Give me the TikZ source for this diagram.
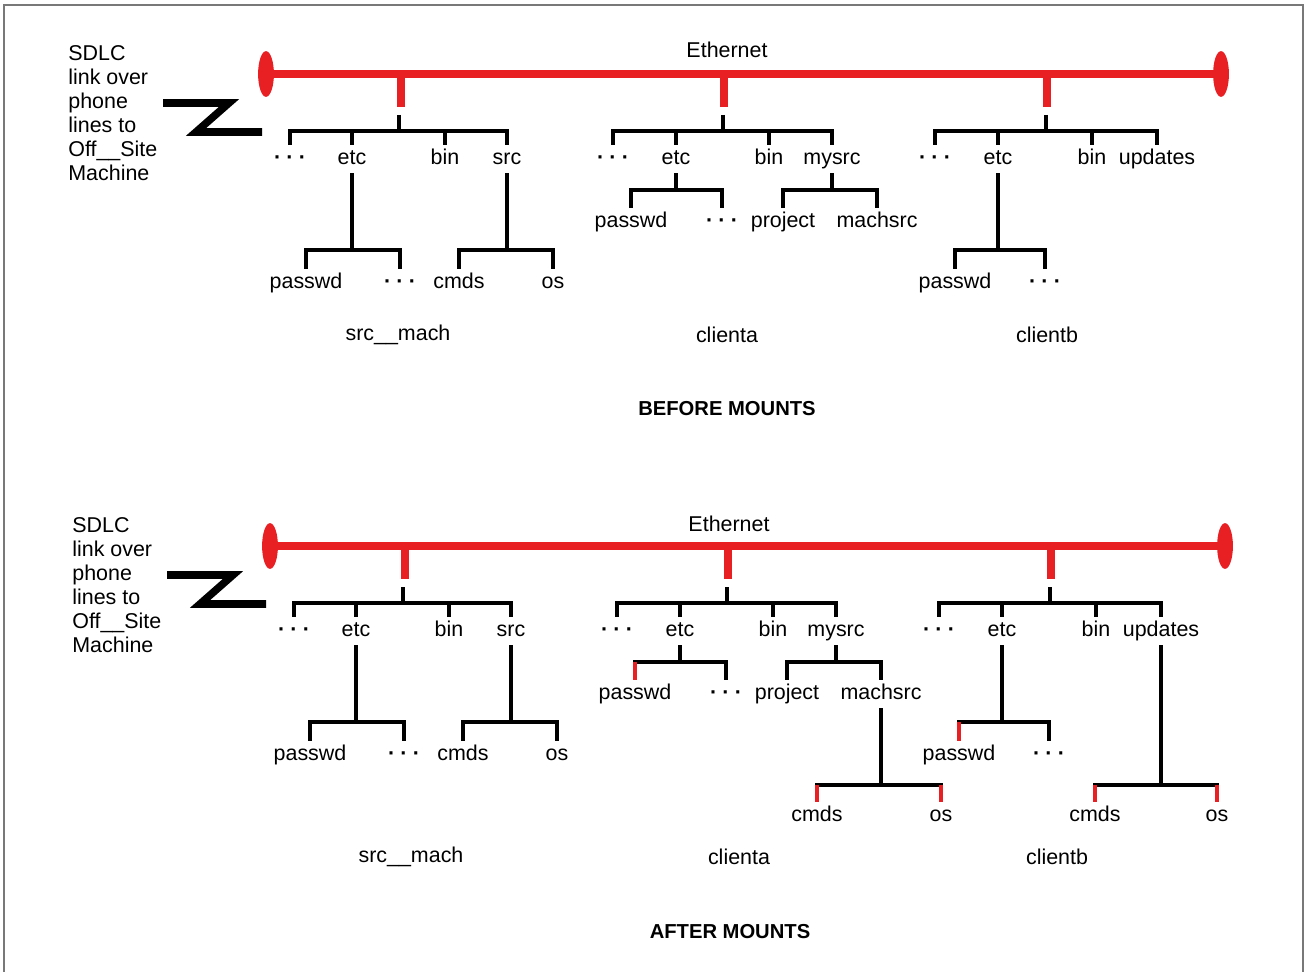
\documentclass[tikz,border=0pt]{standalone}
\usepackage{fontspec}
\setmainfont{Liberation Sans}
\usetikzlibrary{shapes.geometric}

\definecolor{netred}{RGB}{232,32,36}
\definecolor{framegray}{RGB}{120,120,120}
\newcommand{\moredots}{\textbf{·\hspace{3pt}·\hspace{3pt}·}}

\tikzset{
  dir/.style={font=\fontsize{12.2}{14}\selectfont, text height=8.5pt, text depth=2.5pt, inner xsep=1pt, inner ysep=2.5pt},
  host/.style={font=\fontsize{12.2}{14}\selectfont, inner sep=1pt},
  banner/.style={font=\fontsize{11.5}{14}\selectfont\bfseries},
  sdlc/.style={font=\fontsize{12.2}{13.7}\selectfont, align=left, anchor=north west, inner sep=0pt},
  term/.style={ellipse, fill=netred, minimum width=9pt, minimum height=26pt, inner sep=0pt},
  net/.style={netred, line width=4.2pt},
  drop/.style={netred, line width=4.5pt},
  tree/.style={line width=2pt},
  mount/.style={netred, line width=2pt},
  zlink/.style={line width=4.3pt, line join=miter},
}

\begin{document}
\begin{tikzpicture}[x=0.02cm, y=-0.02cm]
\useasboundingbox (0,0) rectangle (1307,972);
\draw[framegray, line width=1.2pt] (4,972) -- (4,5) -- (1303,5) -- (1303,972);

% before mounts
\node[sdlc] (link1) at (68,45) {SDLC\\link over\\phone\\lines to\\Off\_\_Site\\Machine};
\draw[zlink] (163,103) -- (229,103) -- (196,132) -- (262,132);

\node[term] (endL1) at (266,74) {};
\node[term] (endR1) at (1221,74) {};
\draw[net] (endL1) -- (endR1);
\node[host] (eth1) at (727,50) {Ethernet};

\coordinate (tapA1) at (401,107);
\coordinate (tapB1) at (724,107);
\coordinate (tapC1) at (1047,107);
\draw[drop] (tapA1 |- endL1) -- (tapA1);
\draw[drop] (tapB1 |- endL1) -- (tapB1);
\draw[drop] (tapC1 |- endL1) -- (tapC1);

% src_mach
\coordinate (hubA1) at (399,115);
\coordinate (jA1) at (399,131);
\node[dir] (smDots1) at (290,159) {\moredots};
\node[dir] (smEtc1) at (352,159) {etc};
\node[dir] (smBin1) at (445,159) {bin};
\node[dir] (smSrc1) at (507,159) {src};
\draw[tree] (hubA1) -- (jA1) (jA1) -| (smDots1) (jA1) -| (smEtc1) (jA1) -| (smBin1) (jA1) -| (smSrc1);

\coordinate (smEtcJ1) at (352,250);
\node[dir] (smPasswd1) at (306,283) {passwd};
\node[dir] (smMore1) at (400,283) {\moredots};
\draw[tree] (smEtc1) -- (smEtcJ1) -| (smPasswd1) (smEtcJ1) -| (smMore1);

\coordinate (smSrcJ1) at (507,250);
\node[dir] (smCmds1) at (459,283) {cmds};
\node[dir] (smOs1) at (553,283) {os};
\draw[tree] (smSrc1) -- (smSrcJ1) -| (smCmds1) (smSrcJ1) -| (smOs1);

\node[host] (smName1) at (398,335) {src\_\_mach};

% clienta
\coordinate (hubB1) at (723,115);
\coordinate (jB1) at (723,131);
\node[dir] (caDots1) at (613,159) {\moredots};
\node[dir] (caEtc1) at (676,159) {etc};
\node[dir] (caBin1) at (769,159) {bin};
\node[dir] (caMysrc1) at (832,159) {mysrc};
\draw[tree] (hubB1) -- (jB1) (jB1) -| (caDots1) (jB1) -| (caEtc1) (jB1) -| (caBin1) (jB1) -| (caMysrc1);

\coordinate (caEtcJ1) at (676,190);
\node[dir] (caPasswd1) at (631,222) {passwd};
\node[dir] (caMore1) at (722,222) {\moredots};
\draw[tree] (caEtc1) -- (caEtcJ1) -| (caPasswd1) (caEtcJ1) -| (caMore1);

\coordinate (caMysrcJ1) at (832,190);
\node[dir] (caProject1) at (783,222) {project};
\node[dir] (caMachsrc1) at (877,222) {machsrc};
\draw[tree] (caMysrc1) -- (caMysrcJ1) -| (caProject1) (caMysrcJ1) -| (caMachsrc1);

\node[host] (caName1) at (727,335) {clienta};

% clientb
\coordinate (hubC1) at (1046,115);
\coordinate (jC1) at (1046,131);
\node[dir] (cbDots1) at (935,159) {\moredots};
\node[dir] (cbEtc1) at (998,159) {etc};
\node[dir] (cbBin1) at (1092,159) {bin};
\node[dir] (cbUpdates1) at (1157,159) {updates};
\draw[tree] (hubC1) -- (jC1) (jC1) -| (cbDots1) (jC1) -| (cbEtc1) (jC1) -| (cbBin1) (jC1) -| (cbUpdates1);

\coordinate (cbEtcJ1) at (998,250);
\node[dir] (cbPasswd1) at (955,283) {passwd};
\node[dir] (cbMore1) at (1045,283) {\moredots};
\draw[tree] (cbEtc1) -- (cbEtcJ1) -| (cbPasswd1) (cbEtcJ1) -| (cbMore1);

\node[host] (cbName1) at (1047,335) {clientb};

\node[banner] (before) at (727,409) {BEFORE MOUNTS};

% after mounts
\begin{scope}[shift={(4,472)}]
\node[sdlc] (link2) at (68,45) {SDLC\\link over\\phone\\lines to\\Off\_\_Site\\Machine};
\draw[zlink] (163,103) -- (229,103) -- (196,132) -- (262,132);

\node[term] (endL2) at (266,74) {};
\node[term] (endR2) at (1221,74) {};
\draw[net] (endL2) -- (endR2);
\node[host] (eth2) at (725,52) {Ethernet};

\coordinate (tapA2) at (401,107);
\coordinate (tapB2) at (724,107);
\coordinate (tapC2) at (1047,107);
\draw[drop] (tapA2 |- endL2) -- (tapA2);
\draw[drop] (tapB2 |- endL2) -- (tapB2);
\draw[drop] (tapC2 |- endL2) -- (tapC2);

% src_mach
\coordinate (hubA2) at (399,115);
\coordinate (jA2) at (399,131);
\node[dir] (smDots2) at (290,159) {\moredots};
\node[dir] (smEtc2) at (352,159) {etc};
\node[dir] (smBin2) at (445,159) {bin};
\node[dir] (smSrc2) at (507,159) {src};
\draw[tree] (hubA2) -- (jA2) (jA2) -| (smDots2) (jA2) -| (smEtc2) (jA2) -| (smBin2) (jA2) -| (smSrc2);

\coordinate (smEtcJ2) at (352,250);
\node[dir] (smPasswd2) at (306,283) {passwd};
\node[dir] (smMore2) at (400,283) {\moredots};
\draw[tree] (smEtc2) -- (smEtcJ2) -| (smPasswd2) (smEtcJ2) -| (smMore2);

\coordinate (smSrcJ2) at (507,250);
\node[dir] (smCmds2) at (459,283) {cmds};
\node[dir] (smOs2) at (553,283) {os};
\draw[tree] (smSrc2) -- (smSrcJ2) -| (smCmds2) (smSrcJ2) -| (smOs2);

\node[host] (smName2) at (407,385) {src\_\_mach};

% clienta
\coordinate (hubB2) at (723,115);
\coordinate (jB2) at (723,131);
\node[dir] (caDots2) at (613,159) {\moredots};
\node[dir] (caEtc2) at (676,159) {etc};
\node[dir] (caBin2) at (769,159) {bin};
\node[dir] (caMysrc2) at (832,159) {mysrc};
\draw[tree] (hubB2) -- (jB2) (jB2) -| (caDots2) (jB2) -| (caEtc2) (jB2) -| (caBin2) (jB2) -| (caMysrc2);

\coordinate (caEtcJ2) at (676,190);
\node[dir] (caPasswd2) at (631,222) {passwd};
\node[dir] (caMore2) at (722,222) {\moredots};
\draw[tree] (caEtc2) -- (caEtcJ2) -| (caMore2);
\draw[tree, line cap=rect] (caEtcJ2) -- (caEtcJ2 -| caPasswd2);
\draw[mount] (caEtcJ2 -| caPasswd2) -- (caPasswd2);

\coordinate (caMysrcJ2) at (832,190);
\node[dir] (caProject2) at (783,222) {project};
\node[dir] (caMachsrc2) at (877,222) {machsrc};
\draw[tree] (caMysrc2) -- (caMysrcJ2) -| (caProject2) (caMysrcJ2) -| (caMachsrc2);

\coordinate (caMachsrcJ2) at (877,313);
\node[dir] (caCmds2) at (813,344) {cmds};
\node[dir] (caOs2) at (937,344) {os};
\draw[tree] (caMachsrc2) -- (caMachsrcJ2);
\draw[tree, line cap=rect] (caCmds2 |- caMachsrcJ2) -- (caOs2 |- caMachsrcJ2);
\draw[mount] (caCmds2 |- caMachsrcJ2) -- (caCmds2);
\draw[mount] (caOs2 |- caMachsrcJ2) -- (caOs2);

\node[host] (caName2) at (735,385) {clienta};

% clientb
\coordinate (hubC2) at (1046,115);
\coordinate (jC2) at (1046,131);
\node[dir] (cbDots2) at (935,159) {\moredots};
\node[dir] (cbEtc2) at (998,159) {etc};
\node[dir] (cbBin2) at (1092,159) {bin};
\node[dir] (cbUpdates2) at (1157,159) {updates};
\draw[tree] (hubC2) -- (jC2) (jC2) -| (cbDots2) (jC2) -| (cbEtc2) (jC2) -| (cbBin2) (jC2) -| (cbUpdates2);

\coordinate (cbEtcJ2) at (998,250);
\node[dir] (cbPasswd2) at (955,283) {passwd};
\node[dir] (cbMore2) at (1045,283) {\moredots};
\draw[tree] (cbEtc2) -- (cbEtcJ2) -| (cbMore2);
\draw[tree, line cap=rect] (cbEtcJ2) -- (cbEtcJ2 -| cbPasswd2);
\draw[mount] (cbEtcJ2 -| cbPasswd2) -- (cbPasswd2);

\coordinate (cbUpdatesJ2) at (1157,313);
\node[dir] (cbCmds2) at (1091,344) {cmds};
\node[dir] (cbOs2) at (1213,344) {os};
\draw[tree] (cbUpdates2) -- (cbUpdatesJ2);
\draw[tree, line cap=rect] (cbCmds2 |- cbUpdatesJ2) -- (cbOs2 |- cbUpdatesJ2);
\draw[mount] (cbCmds2 |- cbUpdatesJ2) -- (cbCmds2);
\draw[mount] (cbOs2 |- cbUpdatesJ2) -- (cbOs2);

\node[host] (cbName2) at (1053,385) {clientb};

\node[banner] (after) at (726,460) {AFTER MOUNTS};
\end{scope}
\end{tikzpicture}
\end{document}
